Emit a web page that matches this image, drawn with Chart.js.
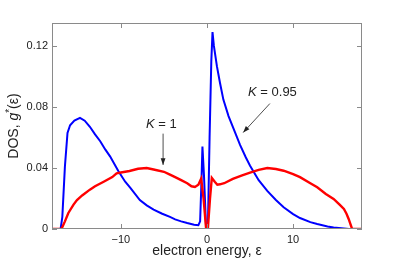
<!DOCTYPE html>
<html>
<head>
<meta charset="utf-8">
<script src="https://cdn.jsdelivr.net/npm/chart.js@4.4.1/dist/chart.umd.min.js"></script>
<style>
body { margin: 0; background: #fff; }
canvas { display: block; }
</style>
</head>
<body>
<canvas id="dos" width="399" height="262"></canvas>
<script>
// values
const energyK1 = [-18, -16.9, -16.5, -16.1, -15.5, -15.1, -14.5, -13.6, -13, -12, -11, -10.5, -10, -9, -8, -7, -6.2, -5, -4.3, -3.7, -3, -2.3, -1.8, -1.4, -1.0, -0.68, -0.4, -0.1, 0.1, 0.35, 0.56, 0.9, 1.2, 1.5, 2, 3, 4, 5, 6, 7, 8, 8.9, 10, 10.8, 12, 12.8, 13.8, 14.7, 15.4, 15.9, 16.2, 16.45, 16.85, 18]
const dosK1 = [0, 0, 0.005, 0.0105, 0.016, 0.019, 0.022, 0.0258, 0.028, 0.031, 0.034, 0.0365, 0.037, 0.038, 0.0395, 0.040, 0.039, 0.0375, 0.0356, 0.034, 0.032, 0.030, 0.028, 0.0275, 0.029, 0.033, 0.02, 0, 0, 0.02, 0.0335, 0.031, 0.029, 0.0293, 0.030, 0.0328, 0.035, 0.037, 0.0388, 0.040, 0.0393, 0.0382, 0.036, 0.034, 0.030, 0.0273, 0.023, 0.0197, 0.016, 0.0131, 0.010, 0.0066, 0, 0]

const energyK095 = [-18, -17.0, -16.8, -16.5, -16.2, -15.9, -15.4, -14.75, -14.2, -13.6, -13, -12.4, -11.8, -11.26, -10.3, -9.5, -8.9, -7.8, -7, -6.2, -5.2, -4.3, -3.7, -3, -2.3, -1.5, -1.0, -0.8, -0.65, -0.53, -0.35, -0.1, 0.1, 0.3, 0.5, 0.64, 0.8, 1.15, 1.5, 1.9, 2.5, 3.07, 3.85, 4.5, 5, 6, 7, 8, 8.9, 10, 10.8, 12, 12.8, 14, 14.7, 16.5, 18]
const dosK095 = [0, 0, 0.008, 0.041, 0.063, 0.068, 0.071, 0.0728, 0.071, 0.067, 0.062, 0.0575, 0.052, 0.0476, 0.038, 0.031, 0.027, 0.019, 0.0155, 0.0127, 0.010, 0.0079, 0.0063, 0.005, 0.0039, 0.0028, 0.0025, 0.005, 0.03, 0.054, 0.035, 0, 0, 0.06, 0.11, 0.129, 0.12, 0.1067, 0.096, 0.0848, 0.074, 0.066, 0.055, 0.047, 0.0415, 0.032, 0.025, 0.019, 0.0142, 0.0098, 0.0072, 0.0045, 0.0033, 0.0017, 0.001, 0, 0]

const xTicks = [-10, 0, 10]
const yTicks = [0, 0.04, 0.08, 0.12]

const FONT = '"Liberation Sans", Arial, sans-serif'
const GRAY = '#8a8a8a'

function pts(xs, ys) {
  return xs.map((x, i) => ({x: x, y: ys[i]}))
}

// frame, inward ticks, titles and the two arrow notes
const decor = {
  id: 'decor',
  afterDraw(chart) {
    const c = chart.ctx
    const a = chart.chartArea
    const sx = chart.scales.x
    const sy = chart.scales.y
    c.save()
    c.strokeStyle = GRAY
    c.lineWidth = 1
    c.strokeRect(a.left + 0.5, a.top + 0.5, a.right - a.left - 1, a.bottom - a.top - 1)
    c.beginPath()
    xTicks.forEach(v => {
      const px = Math.round(sx.getPixelForValue(v)) + 0.5
      c.moveTo(px, a.bottom); c.lineTo(px, a.bottom - 5)
      c.moveTo(px, a.top); c.lineTo(px, a.top + 5)
    })
    yTicks.forEach(v => {
      const py = Math.round(sy.getPixelForValue(v)) + 0.5
      c.moveTo(a.left, py); c.lineTo(a.left + 5, py)
      c.moveTo(a.right, py); c.lineTo(a.right - 5, py)
    })
    c.stroke()

    c.fillStyle = '#222'
    c.strokeStyle = '#222'
    c.textBaseline = 'middle'

    // x title
    c.font = '14px ' + FONT
    c.textAlign = 'center'
    c.fillText('electron energy, \u03b5', (a.left + a.right) / 2, 251)

    // y title with italic g and raised star
    c.save()
    c.translate(14, (a.top + a.bottom) / 2)
    c.rotate(-Math.PI / 2)
    c.textAlign = 'left'
    const parts = [
      ['DOS, ', '14px ' + FONT, 0],
      ['g', 'italic 14px ' + FONT, 0],
      ['*', '10px ' + FONT, -4],
      ['(\u03b5)', '14px ' + FONT, 0]
    ]
    let w = 0
    parts.forEach(p => { c.font = p[1]; w += c.measureText(p[0]).width })
    let x = -w / 2
    parts.forEach(p => {
      c.font = p[1]
      c.fillText(p[0], x, p[2])
      x += c.measureText(p[0]).width
    })
    c.restore()

    // notes
    function note(label, tx, ty, x0, y0, x1, y1) {
      const X = v => sx.getPixelForValue(v)
      const Y = v => sy.getPixelForValue(v)
      c.textAlign = 'left'
      c.font = 'italic 13px ' + FONT
      const kw = c.measureText('K').width
      c.font = '13px ' + FONT
      const rw = c.measureText(label).width
      const left = X(tx) - (kw + rw) / 2
      c.font = 'italic 13px ' + FONT
      c.fillText('K', left, Y(ty))
      c.font = '13px ' + FONT
      c.fillText(label, left + kw, Y(ty))
      const ax = X(x0), ay = Y(y0), bx = X(x1), by = Y(y1)
      c.lineWidth = 0.8
      c.beginPath()
      c.moveTo(ax, ay); c.lineTo(bx, by)
      c.stroke()
      const ang = Math.atan2(by - ay, bx - ax)
      c.beginPath()
      c.moveTo(bx, by)
      c.lineTo(bx - 7 * Math.cos(ang - 0.35), by - 7 * Math.sin(ang - 0.35))
      c.lineTo(bx - 7 * Math.cos(ang + 0.35), by - 7 * Math.sin(ang + 0.35))
      c.closePath()
      c.fill()
    }
    note(' = 1', -5.3, 0.0684, -5.1, 0.0625, -5.1, 0.042)
    note(' = 0.95', 7.6, 0.0894, 7.3, 0.0822, 4.2, 0.0632)
    c.restore()
  }
}

new Chart(document.getElementById('dos'), {
  type: 'line',
  data: {
    datasets: [{
      label: 'K = 1',
      data: pts(energyK1, dosK1),
      borderColor: '#ff0000',
      borderWidth: 2.4,
      pointRadius: 0,
      tension: 0
    }, {
      label: 'K = 0.95',
      data: pts(energyK095, dosK095),
      borderColor: '#0000ff',
      borderWidth: 2,
      pointRadius: 0,
      tension: 0
    }]
  },
  options: {
    responsive: false,
    animation: false,
    layout: { padding: { left: 0, top: 23, right: 37, bottom: 0 } },
    plugins: { legend: { display: false }, tooltip: { enabled: false } },
    scales: {
      x: {
        type: 'linear',
        min: -18,
        max: 18,
        grid: { display: false, drawTicks: false },
        border: { display: false },
        afterBuildTicks: s => { s.ticks = xTicks.map(v => ({value: v})) },
        afterFit: s => { s.height = 33 },
        ticks: {
          padding: 4,
          color: '#222',
          font: { family: FONT, size: 11 },
          maxRotation: 0,
          callback: v => v < 0 ? '\u2212' + Math.abs(v) : String(v)
        }
      },
      y: {
        min: 0,
        max: 0.135,
        grid: { display: false, drawTicks: false },
        border: { display: false },
        afterBuildTicks: s => { s.ticks = yTicks.map(v => ({value: v})) },
        afterFit: s => { s.width = 52 },
        ticks: {
          padding: 4,
          color: '#222',
          font: { family: FONT, size: 11 },
          callback: v => v === 0 ? '0' : v.toFixed(2)
        }
      }
    }
  },
  plugins: [decor]
})
</script>
</body>
</html>
